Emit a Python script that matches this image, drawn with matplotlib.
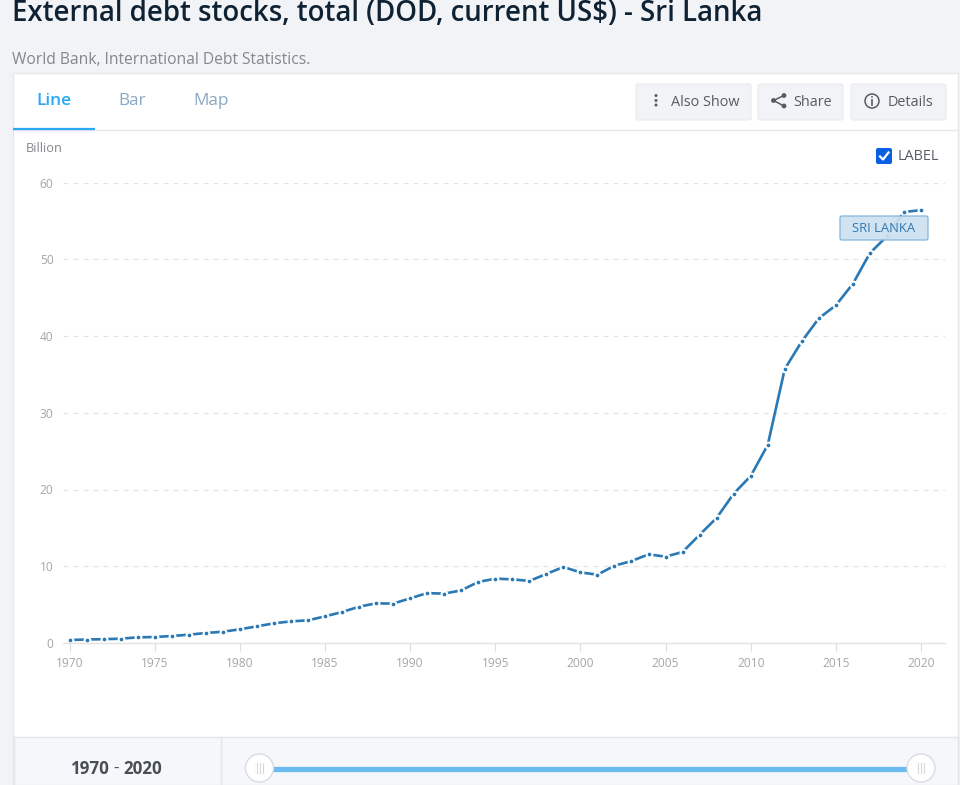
import matplotlib

matplotlib.use("Agg")
import matplotlib.pyplot as plt
from matplotlib.patches import Circle, FancyBboxPatch, Rectangle

W, H = 960, 785

years = list(range(1970, 2021))
debt = [
    0.39, 0.45, 0.50, 0.56, 0.74, 0.78, 0.91, 1.08, 1.30, 1.47,
    1.78, 2.17, 2.56, 2.82, 2.95, 3.47, 4.03, 4.73, 5.17, 5.13,
    5.82, 6.50, 6.43, 6.86, 7.95, 8.38, 8.30, 8.08, 9.00, 9.90,
    9.20, 8.90, 10.07, 10.68, 11.55, 11.25, 11.86, 14.10, 16.30, 19.45,
    21.76, 25.80, 35.70, 39.30, 42.30, 44.00, 46.80, 50.80, 53.00, 56.15,
    56.40,
]
x_ticks = list(range(1970, 2021, 5))
y_ticks = [0, 10, 20, 30, 40, 50, 60]
tabs = ["Line", "Bar", "Map"]

BG = "#f1f3f7"
TICK = "#a6a6a6"
LINE = "#2a78b4"

plt.rcParams["font.family"] = ["Open Sans", "DejaVu Sans"]


def px(size):
    return size * 0.72


def rounded(ax, x0, y0, x1, y1, **kw):
    r = kw.pop("r", 2)
    ax.add_patch(FancyBboxPatch((x0 + r, y0 + r), x1 - x0 - 2 * r, y1 - y0 - 2 * r,
                                boxstyle=f"round,pad={r},rounding_size={r}", **kw))


fig = plt.figure(figsize=(W / 100, H / 100), dpi=100, facecolor=BG)

# page furniture, drawn in pixel coordinates
ui = fig.add_axes([0, 0, 1, 1], zorder=0)
ui.set_xlim(0, W)
ui.set_ylim(H, 0)
ui.axis("off")

ui.text(12, 21, "External debt stocks, total (DOD, current US$) - Sri Lanka",
        fontsize=px(27.65), fontweight=600, color="#0f2233", va="baseline")
ui.text(12, 59.5, "World Bank, International Debt Statistics.", fontsize=px(15.6),
        color="#85878c", va="center")

ui.add_patch(Rectangle((13, 73), 945, H - 73, fc="white", ec="#e6e8ec", lw=1))
ui.plot([13, 958], [129.5, 129.5], color="#e6e8ec", lw=1)
ui.plot([13, 95], [129, 129], color="#29a8f5", lw=1.6, solid_capstyle="butt")

for name, cx, col in zip(tabs, [54, 132.5, 211.5], ["#29a8f5", "#8aa9c4", "#8aa9c4"]):
    ui.text(cx, 101, name, ha="center", va="center", fontsize=px(17.2), color=col,
            fontweight=600 if name == "Line" else "normal")

for x0, x1 in [(636, 751), (758, 843), (851, 946)]:
    rounded(ui, x0, 84, x1, 120, fc=BG, ec="#e8eaee", lw=0.8)
ui.text(671, 102, "Also Show", va="center", fontsize=px(14.4), color="#565b63")
ui.text(793, 102, "Share", va="center", fontsize=px(14.4), color="#565b63")
ui.text(888, 102, "Details", va="center", fontsize=px(14.4), color="#565b63")

# button icons
for cy in [95.5, 100.5, 105]:
    ui.add_patch(Circle((656, cy), 1.5, fc="#565b63", ec="none"))
share_pts = [(784, 95.5), (773.5, 100.5), (784, 106)]
ui.plot([p[0] for p in share_pts], [p[1] for p in share_pts], color="#565b63", lw=1.1)
for p in share_pts:
    ui.add_patch(Circle(p, 2.4, fc="#565b63", ec="none"))
ui.add_patch(Circle((872, 101), 7, fc="none", ec="#565b63", lw=1.1))
ui.plot([872, 872], [99.5, 105], color="#565b63", lw=1.2)
ui.add_patch(Circle((872, 97), 0.9, fc="#565b63", ec="none"))

ui.text(26, 148.5, "Billion", va="center", fontsize=px(12.7), color="#85878c")

rounded(ui, 876, 148, 892, 164, fc="#0b5fe3", ec="none", r=2)
ui.plot([880, 883, 888.5], [156.5, 159.5, 152.5], color="white", lw=1.6)
ui.text(898, 156.5, "LABEL", va="center", fontsize=px(14.5), color="#5a5f66")

# bottom year slider
ui.add_patch(Rectangle((13.5, 737), 944, H - 737, fc="#f6f7fa", ec="#e3e5e9", lw=1))
ui.plot([220.5, 220.5], [737, H], color="#e3e5e9", lw=1)
ui.text(71, 769, "1970", va="center", fontsize=px(17), fontweight="bold", color="#484e57")
ui.text(116.5, 769, "-", ha="center", va="center", fontsize=px(17), color="#484e57")
ui.text(123.5, 769, "2020", va="center", fontsize=px(17), fontweight="bold", color="#484e57")
ui.plot([259, 921], [768.5, 768.5], color="#69bbf0", lw=3.8, solid_capstyle="butt")
for cx in [259.5, 921]:
    ui.add_patch(Circle((cx, 768), 14, fc="white", ec="#d9dde2", lw=1, zorder=3))
    for dx in [-3, 0, 3]:
        ui.plot([cx + dx, cx + dx], [763, 773], color="#d5d8dc", lw=0.8, zorder=4)

# the chart itself: 1970 at px 69.5, 2020 at px 921; 0 at px 643, 60 at px 182.5
left, right, top, bottom = 63, 945, 182.5, 643
ax = fig.add_axes([left / W, 1 - bottom / H, (right - left) / W, (bottom - top) / H], zorder=1)
ax.patch.set_alpha(0)
per_year = (921 - 69.5) / 50
ax.set_xlim(1970 - (69.5 - left) / per_year, 2020 + (right - 921) / per_year)
ax.set_ylim(0, 60)
for side in ["top", "right", "left"]:
    ax.spines[side].set_visible(False)
ax.spines["bottom"].set_color("#e3e3e3")
ax.spines["bottom"].set_linewidth(1)
ax.set_xticks(x_ticks)
ax.set_yticks(y_ticks)
ax.tick_params(axis="x", length=6, width=0.8, color="#dcdcdc", labelcolor=TICK,
               labelsize=px(12), pad=4)
ax.tick_params(axis="y", length=0, labelcolor=TICK, labelsize=px(12), pad=6.8)
for lab in ax.get_yticklabels():
    lab.set_verticalalignment("center_baseline")
ax.set_axisbelow(True)
ax.grid(axis="y", color="#e3e3e3", lw=0.9, linestyle=(0, (4, 4)))
ax.plot(years, debt, color=LINE, lw=1.9, marker="o", ms=4.2, mfc=LINE, mec="white",
        mew=1.5, clip_on=False)

# label over the line, on a layer of its own so it tints the line below
top_ui = fig.add_axes([0, 0, 1, 1], zorder=2)
top_ui.set_xlim(0, W)
top_ui.set_ylim(H, 0)
top_ui.axis("off")
rounded(top_ui, 840, 216, 928, 240, fc="#cde0f0", ec="#86b6da", lw=1, alpha=0.92)
top_ui.text(884, 229, "SRI LANKA", ha="center", va="center", fontsize=px(13), color="#2f7ab5")

fig.savefig("out.png", dpi=100, facecolor=BG)
